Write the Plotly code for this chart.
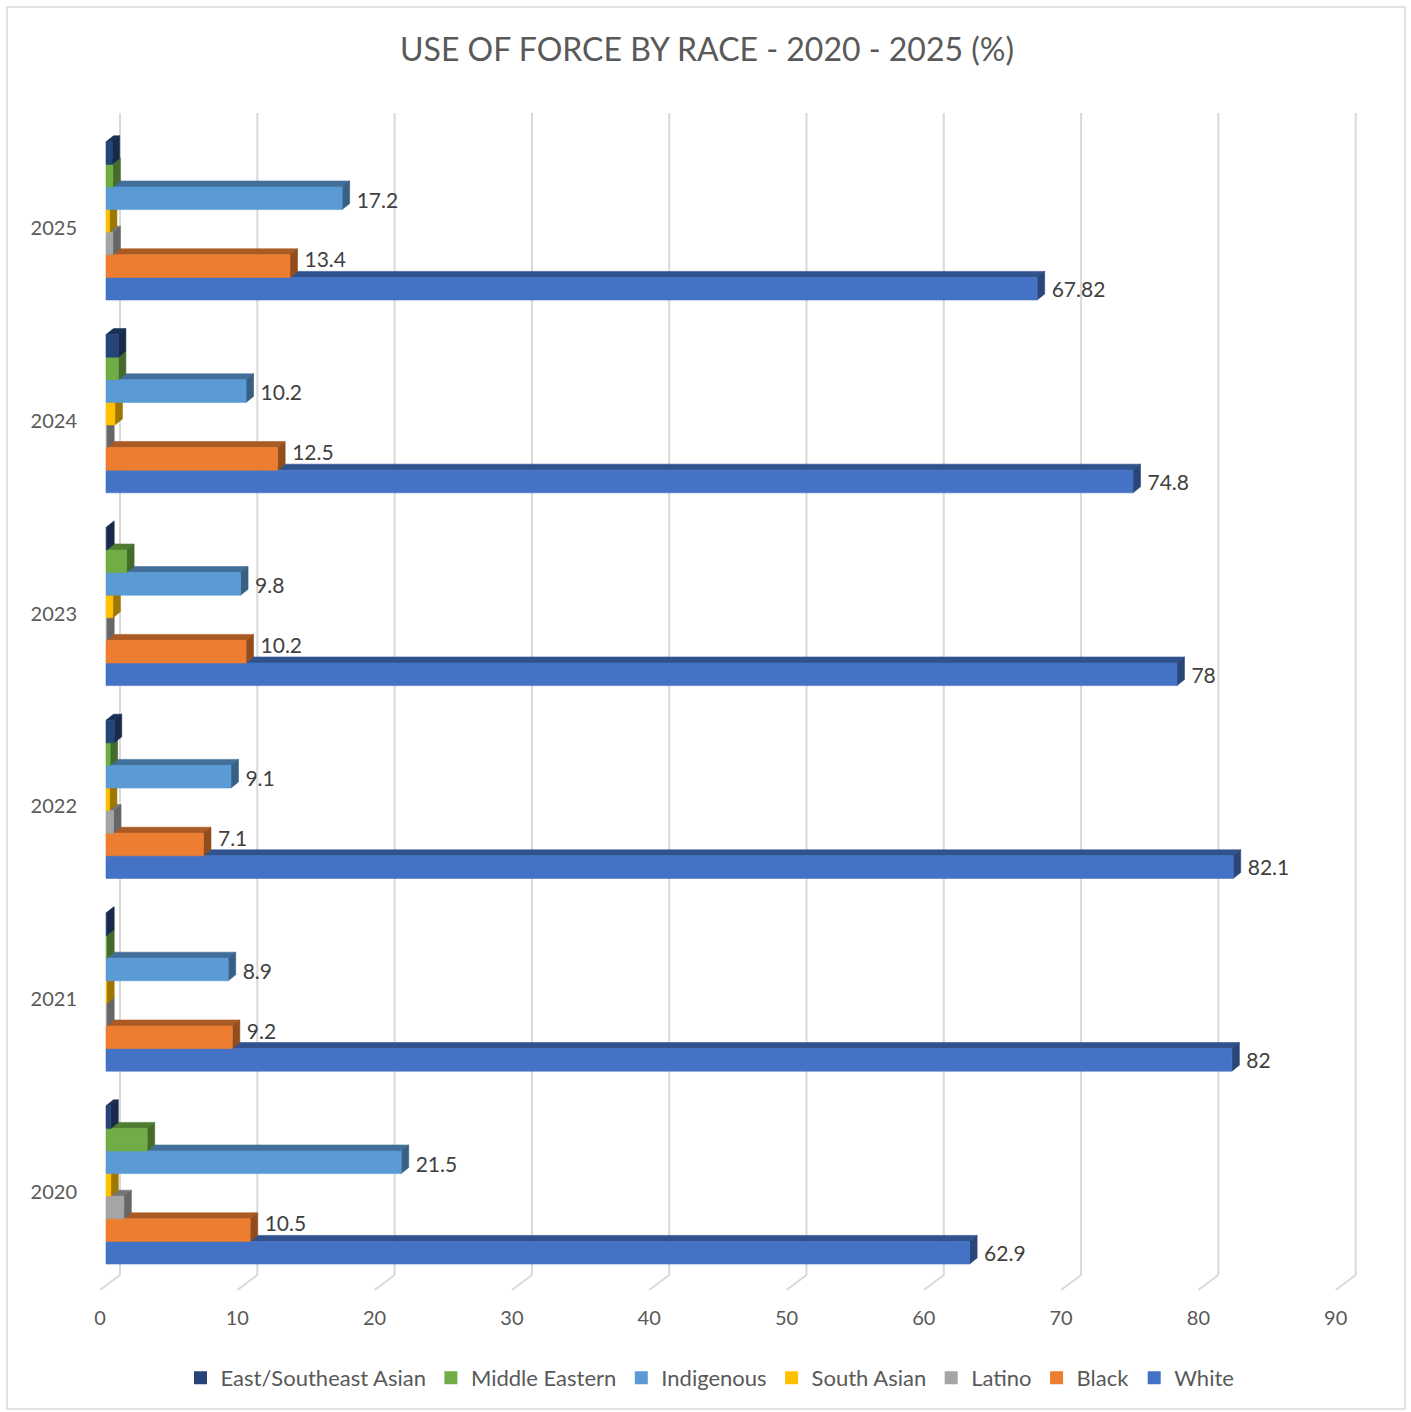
import plotly.graph_objects as go

# ---- data -------------------------------------------------------------
years = [2020, 2021, 2022, 2023, 2024, 2025]

white = [62.9, 82, 82.1, 78, 74.8, 67.82]
black = [10.5, 9.2, 7.1, 10.2, 12.5, 13.4]
latino = [1.3, 0.05, 0.55, 0.05, 0.05, 0.5]
south_asian = [0.35, 0.05, 0.25, 0.5, 0.65, 0.25]
indigenous = [21.5, 8.9, 9.1, 9.8, 10.2, 17.2]
middle_eastern = [3.0, 0.05, 0.3, 1.5, 0.9, 0.5]
east_se_asian = [0.35, 0.05, 0.6, 0.05, 0.9, 0.45]

# bottom-to-top order inside each year group: (name, values, colour, labelled?)
series = [
    ("White", white, "#4472C4", True),
    ("Black", black, "#ED7D31", True),
    ("Latino", latino, "#A5A5A5", False),
    ("South Asian", south_asian, "#FFC000", False),
    ("Indigenous", indigenous, "#5B9BD5", True),
    ("Middle Eastern", middle_eastern, "#70AD47", False),
    ("East/Southeast Asian", east_se_asian, "#264478", False),
]
label_nudge_px = {"White": 3, "Black": -4, "Indigenous": 4}

# ---- page geometry (pixels) --------------------------------------------
W, H = 1411, 1412
L, R, T, B = 90, 1385, 113, 1293
PX_PER_UNIT = 13.73
X_FACE0, X_FRONT0, X_BACK0 = 106, 100, 120   # zero of bar faces / floor front / back wall
Y0_PX, PX_PER_YEAR = 1192, 192.8               # first category label and spacing

def ypx(px):
    return (Y0_PX - px) / PX_PER_YEAR

SLOT = 22.6 / PX_PER_YEAR          # height of one bar face
DY = 6 / PX_PER_YEAR               # depth (vertical part)
DX = 7.5 / PX_PER_UNIT             # depth (horizontal part)
LABEL_PAD = 7 / PX_PER_UNIT        # gap between bar end and its value label
GROUP_BOTTOM = 72 / PX_PER_YEAR    # lowest bar sits this far below the category
BACK_OFF = (X_BACK0 - X_FACE0) / PX_PER_UNIT
FRONT_OFF = (X_FRONT0 - X_FACE0) / PX_PER_UNIT


def shade(hex_color, f):
    h = hex_color.lstrip("#")
    r, g, b = (int(h[i:i + 2], 16) for i in (0, 2, 4))
    return "#%02x%02x%02x" % (int(r * f), int(g * f), int(b * f))


fig = go.Figure()

# back-wall gridlines and floor ticks
grid_x, grid_y = [], []
floor_back, floor_front = ypx(1275), ypx(1290)
for v in range(0, 100, 10):
    grid_x += [v + BACK_OFF, v + BACK_OFF, None, v + BACK_OFF, v + FRONT_OFF, None]
    grid_y += [ypx(T), floor_back, None, floor_back, floor_front, None]
fig.add_trace(go.Scatter(x=grid_x, y=grid_y, mode="lines",
                         line=dict(color="#D9D9D9", width=2),
                         hoverinfo="skip", showlegend=False))

# 3-D style bars: top face, side face, front face for every series
label_x, label_y, label_t = [], [], []
for k, (name, vals, color, labelled) in enumerate(series):
    top_x, top_y, side_x, side_y, front_x, front_y = [], [], [], [], [], []
    for i, v in enumerate(vals):
        yb = i - GROUP_BOTTOM + k * SLOT
        yt = yb + SLOT
        top_x += [0, v, v + DX, DX, 0, None]
        top_y += [yt, yt, yt + DY, yt + DY, yt, None]
        side_x += [v, v + DX, v + DX, v, v, None]
        side_y += [yb, yb + DY, yt + DY, yt, yb, None]
        front_x += [0, v, v, 0, 0, None]
        front_y += [yb, yb, yt, yt, yb, None]
        if labelled:
            label_x.append(v + DX + LABEL_PAD)
            label_y.append((yb + yt) / 2 - label_nudge_px.get(name, 0) / PX_PER_YEAR)
            label_t.append(f"{v:g}")
    for xs, ys, col in ((top_x, top_y, shade(color, 0.72)),
                        (side_x, side_y, shade(color, 0.62)),
                        (front_x, front_y, color)):
        fig.add_trace(go.Scatter(x=xs, y=ys, mode="lines", fill="toself",
                                 fillcolor=col, line=dict(color=col, width=0.6),
                                 hoverinfo="skip", showlegend=False))

# value labels
fig.add_trace(go.Scatter(x=label_x, y=label_y, mode="text", text=label_t,
                         textposition="middle right",
                         textfont=dict(size=21, color="#404040", family="Lato"),
                         hoverinfo="skip", showlegend=False, cliponaxis=False))

# legend entries
for name, vals, color, _ in reversed(series):
    fig.add_trace(go.Scatter(x=[None], y=[None], mode="markers", name=name,
                             marker=dict(symbol="square", size=13, color=color)))

# axis carrying the tick labels along the front edge of the floor
fig.add_trace(go.Scatter(x=[None], y=[None], xaxis="x2", showlegend=False))

fig.update_layout(
    width=W, height=H,
    margin=dict(l=L, r=W - R, t=T, b=H - B),
    paper_bgcolor="white", plot_bgcolor="white",
    font=dict(family="Lato", color="#595959", size=20),
    title=dict(text="USE OF FORCE BY RACE - 2020 - 2025 (%)",
               x=(707 - 0) / W, xanchor="center", y=1 - 50 / H, yanchor="middle",
               font=dict(size=32, color="#595959", family="Lato")),
    xaxis=dict(range=[(L - X_FACE0) / PX_PER_UNIT, (R - X_FACE0) / PX_PER_UNIT],
               showgrid=False, zeroline=False, showticklabels=False, showline=False),
    xaxis2=dict(range=[(L - X_FRONT0) / PX_PER_UNIT, (R - X_FRONT0) / PX_PER_UNIT],
                overlaying="x", anchor="y", side="bottom",
                tickvals=list(range(0, 100, 10)),
                showgrid=False, zeroline=False, showline=False, ticks="",
                ticklabelstandoff=11,
                tickfont=dict(size=20, color="#595959")),
    yaxis=dict(range=[ypx(B), ypx(T)],
               tickvals=list(range(len(years))), ticktext=[str(y) for y in years],
               showgrid=False, zeroline=False, showline=False, ticks="",
               ticklabelstandoff=12,
               tickfont=dict(size=20, color="#595959")),
    legend=dict(orientation="h", x=(710 - L) / (R - L), xanchor="center",
                y=(B - 1378) / (B - T), yanchor="middle",
                font=dict(size=22, color="#595959"),
                itemclick=False, itemdoubleclick=False),
    shapes=[dict(type="rect", xref="paper", yref="paper",
                 x0=(7 - L) / (R - L), x1=(1405 - L) / (R - L),
                 y0=(B - 1409) / (B - T), y1=(B - 7) / (B - T),
                 line=dict(color="#D9D9D9", width=1.5), fillcolor="rgba(0,0,0,0)",
                 layer="below")],
    hovermode=False,
)

fig.write_html("out.html")
